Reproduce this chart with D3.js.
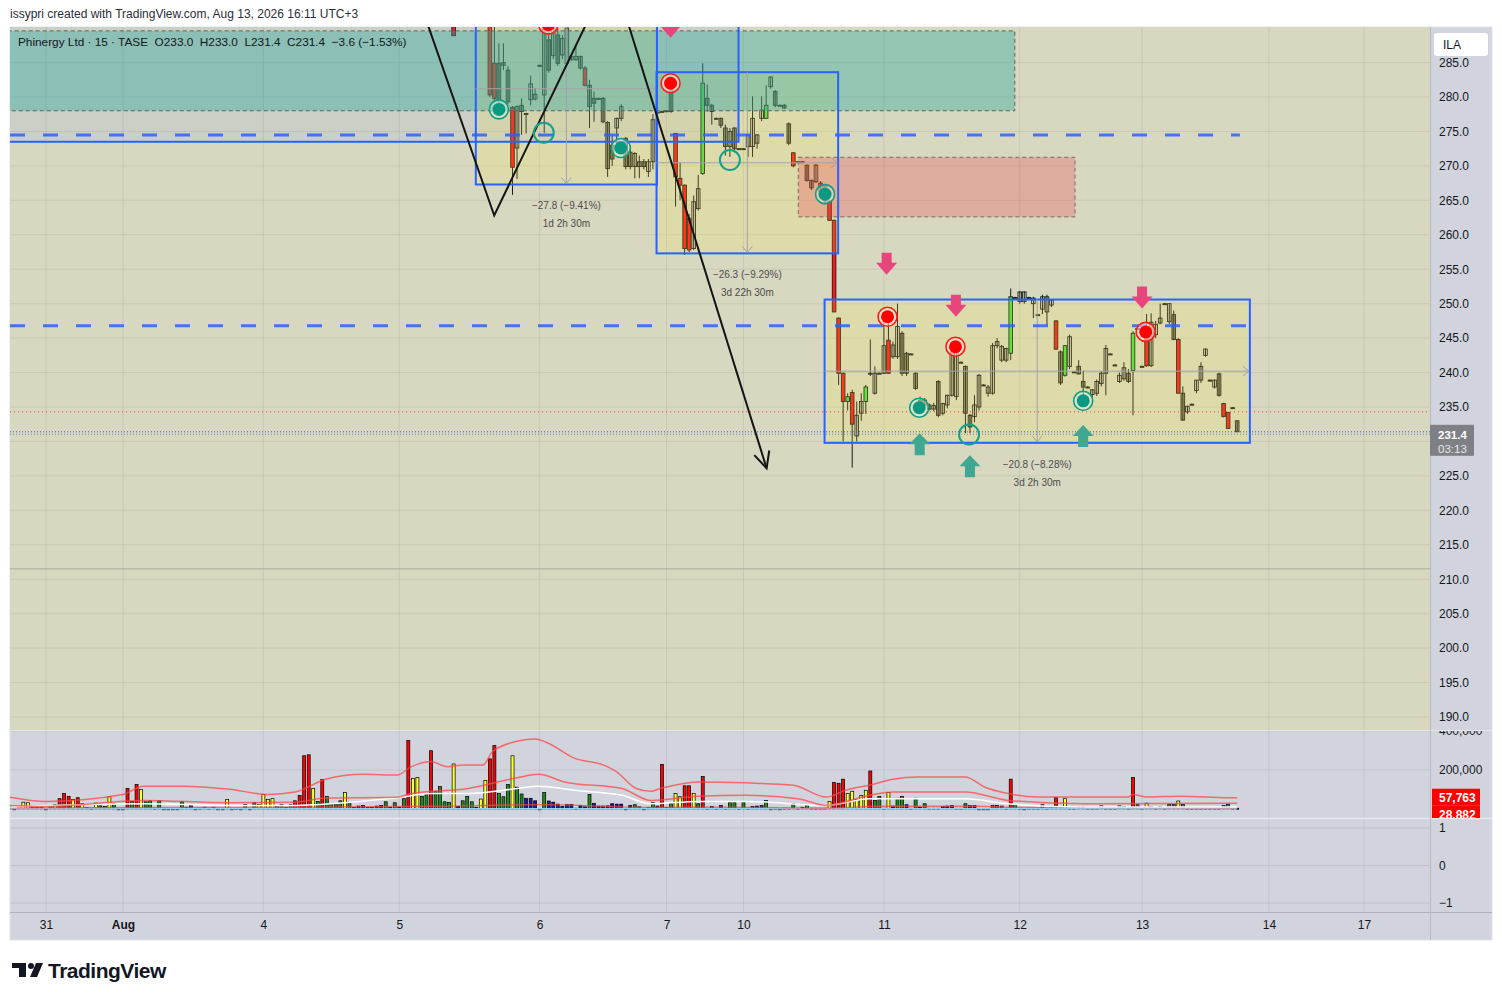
<!DOCTYPE html>
<html><head><meta charset="utf-8">
<script src="https://cdn.jsdelivr.net/npm/d3@7"></script>
<style>body{margin:0;background:#fff;} svg{display:block;font-family:"Liberation Sans",Arial,sans-serif;} .pre{white-space:pre;}</style>
</head><body><svg id="c" width="1502" height="1000"></svg>
<script>
// ---------------- DATA ----------------
const dayTickIndex = [0,17,48,78,109,137,154,185,215,242,270,291];
const dayTickLabel = ["31","Aug","4","5","6","7","10","11","12","13","14","17"];
const priceTicks = [285,280,275,270,265,260,255,250,245,240,235,230,225,220,215,210,205,200,195,190];
const volumeTicks = [400000,200000];
const oscTicks = [1,0,-1];

// candles: [open, high, low, close, tone]  tone: r red, g green, d filled, h hollow ; null = above view
const candleStart = 90;
const candleRows = [
 [290.4,291,288.9,288.9,'r'], null,null,null,null,null,null,null,
 [292,293,280,280.3,'r'],[284.9,290.5,279.3,279.8,'r'],
 [284.9,287.8,279.1,279.6,'d'],[285,287.8,283.9,284.6,'d'],[283.9,284.5,279,279.3,'d'],[278.5,278.7,265.8,269.8,'r'],[272.6,278.8,268.1,278.6,'h'],
 [278.8,279.8,274.5,277.9,'d'],[277.6,277.7,274.7,277.5,'d'],[279.6,283.1,278.8,281.9,'h'],[279.7,281.3,279.5,280.4,'h'],[284.6,284.7,284.4,284.5,'d'],
 [280.3,291,274.8,289.8,'h'],[288.3,289.5,283.5,283.9,'d'],[286,290.5,285.5,290,'h'],[289,290,284.5,284.9,'d'],[286.1,289,285.5,288.5,'h'],
 [284.9,290.3,284.5,290,'h'],[285.9,286,285.3,285.4,'d'],[285.4,287.5,285.3,285.9,'h'],[285.9,286,284,284.2,'d'],[284.2,284.5,281.5,281.7,'r'],
 [281.7,282.5,275.5,278.6,'d'],[279.8,280.8,276.4,279.1,'d'],[279.8,279.9,279.7,279.8,'d'],[279.8,280,276.2,276.4,'d'],[276.3,276.5,268.4,269.6,'d'],
 [273,274.5,270,271,'d'],[275.5,277,273,276.9,'h'],[276.9,279,276.5,278.6,'h'],[274,274.2,269.5,269.9,'d'],[272,273,269.5,269.9,'d'],
 [269.9,272,268.2,271.8,'h'],[270.6,271.5,268.2,269.9,'d'],[270.6,271,269.5,269.9,'d'],[269.2,271,268.4,270.6,'h'],[270.6,277.5,269.5,276.7,'h'],
 [277.8,277.9,277.7,277.8,'d'],[277.9,278,277.8,277.9,'d'],[278,278.1,277.9,278,'d'],[281.7,282.5,277.7,277.9,'d'],[274.7,274.8,264.1,268.4,'r'],
 [268.2,270.5,265,267.2,'r'],[267.2,267.3,257.1,258,'r'],[262.4,263,257.5,257.8,'r'],[258,265.7,257.8,264.8,'h'],[263.8,268.7,263.5,266.7,'h'],
 [268.9,284.9,268.7,282,'g'],[279.8,281.8,277.9,278.8,'d'],[278.8,279,276,277.9,'d'],[276.9,277,276.8,276.9,'d'],[276.9,277,275.5,275.9,'d'],
 [275.5,276,271.5,272.8,'d'],[272.8,275.5,271.3,275,'h'],[275.5,275.6,272,272.5,'d'],[272.5,272.6,272.4,272.5,'d'],[272.5,272.6,272.4,272.5,'d'],
 [272.8,274.5,271.3,274.5,'h'],[272.8,280.1,271.3,276.9,'h'],[273.3,274.6,272.5,274.5,'h'],[276.9,280.1,276.5,278.1,'h'],[276.9,281.7,276.8,278.8,'g'],
 [281.5,283,281.2,282.9,'h'],[280.8,281,278.5,278.8,'d'],[278.8,278.9,278.7,278.8,'d'],[278.8,279,278.3,278.4,'d'],[276.1,276.3,273,273.3,'d'],
 [271.9,272,269.8,270,'r'],[270.6,270.7,270.5,270.6,'d'],[270.6,270.7,270.5,270.6,'d'],[270.1,270.2,267.7,267.9,'d'],[267.9,268,266.5,266.8,'d'],
 [267.7,270.3,267.5,270.1,'h'],[267.5,267.8,266,266.3,'d'],[267,267.2,264.5,265,'d'],[264.8,265,262,262.1,'r'],[262.1,262.2,248.8,248.8,'r'],
 [247.9,248,238.2,239.9,'r'],[239.9,240,230,235.8,'r'],[235.8,237,234.5,236.5,'g'],[237.1,237.5,226.2,232.5,'r'],[230.8,235.8,230,233.8,'h'],
 [234.1,237,233,235.8,'h'],[235.8,238.2,234,237.9,'g'],[239.9,244.8,239.5,239.9,'d'],[237,240.9,236.8,239.9,'h'],[239.9,240,239.8,239.9,'d'],
 [239.9,247.5,239.8,243.9,'h'],[244.7,248.5,239.8,239.9,'r'],[242.3,244.5,242,244,'h'],[242.3,250,242,246.7,'h'],[245.7,246,239.5,239.9,'d'],
 [242.8,243,239.5,239.9,'d'],[242.7,242.8,242.6,242.7,'d'],[239.9,240,237.5,237.7,'d'],[236,236.5,234.5,235.2,'d'],[236,236.3,235,235.3,'d'],
 [235.3,235.5,234.5,234.7,'d'],[234.7,235.6,234.4,235.2,'h'],[238.7,238.9,233.5,233.8,'d'],[234.1,235.6,233.8,235.5,'h'],[235.3,236.8,234.8,236.7,'h'],
 [236.7,244.2,236.5,243,'h'],[236.5,244.5,236,243.8,'h'],[241.5,241.6,241.4,241.5,'d'],[240.9,241,231.2,234.1,'d'],[233.8,234,231.2,232.1,'d'],
 [233.6,236.7,232.8,235.3,'h'],[235,239.8,234.5,239.6,'h'],[238.2,238.3,238.1,238.2,'d'],[237,238.2,236.5,237.9,'h'],[237,244.3,236.8,243.9,'h'],
 [243.9,245,243.5,244.5,'h'],[241.8,244,241.5,243.8,'h'],[241.8,243.6,241.5,243.5,'h'],[242.8,252.2,241.8,251,'g'],[250.9,251,250.8,250.9,'d'],
 [250.3,251.8,250,251.7,'h'],[250.3,251.8,250,251.7,'h'],[250.9,251,250.8,250.9,'d'],[250,251,247.9,250.8,'h'],[248.4,248.5,248.3,248.4,'d'],
 [249.2,251.3,248.5,251,'h'],[248.8,251.3,246.9,251,'h'],[249.8,250.5,249.5,250.5,'h'],[247.5,247.6,243.3,243.4,'r'],[243,243.2,238.2,238.5,'d'],
 [239.6,244,239.4,243.9,'g'],[240.9,245.5,240.5,245.2,'h'],[240.1,240.2,240,240.1,'d'],[240.9,241.8,239.7,239.8,'d'],[238.7,240.3,236,237.9,'d'],
 [237.9,238,237.8,237.9,'d'],[236.8,237.6,236.3,237.5,'h'],[237,239,236.6,238.7,'h'],[238.4,240.2,238,239.9,'h'],[239.9,244,236.7,243.5,'h'],
 [242.7,242.8,242.6,242.7,'d'],[241.1,241.2,241,241.1,'d'],[238.7,240,238.5,239.6,'h'],[239.1,241.5,238.8,240.7,'h'],[239.9,240.5,238.5,238.7,'d'],
 [240.3,246,233.8,245.7,'g'],[246.4,246.5,246.3,246.4,'d'],[240.9,241,240.8,240.9,'d'],[246.2,248.5,240.8,241,'r'],[241,248.6,240.8,247.3,'h'],
 [245.5,247.5,245,247,'h'],[247.2,250,247,247.9,'h'],[250,250.1,249.9,250,'d'],[247.4,250,247,250,'h'],[248.4,249,244.7,244.8,'d'],
 [244.8,245,237,237,'r'],[237,238,233,233.1,'d'],[234.3,235.2,234,235.1,'h'],[235.4,235.5,235.3,235.4,'d'],[237.4,238.9,237,238.9,'h'],
 [238.9,241.5,238.5,240.9,'h'],[242.5,243.5,242.3,243.4,'h'],[238.9,239,238.8,238.9,'d'],[237.9,239,237.7,238.9,'h'],[239.8,240,236.5,236.7,'d'],
 [235.5,235.6,233.5,233.6,'r'],[234.2,234.3,231.8,231.9,'r'],[234.9,235,234.8,234.9,'d'],[233,233,231.4,231.4,'d']
];

// volume in thousands, colour code: r red, y yellow, g green, b blue, k black
const volumeStart = -8;
const volumes = [
 [13,'k'],[1,'k'],[13,'g'],[35,'y'],[32,'y'],[8,'k'],[8,'k'],[8,'k'],
 [1,'k'],[18,'g'],[22,'y'],[53,'r'],[79,'r'],[65,'r'],[49,'y'],[58,'r'],[27,'y'],[8,'k'],
 [4,'k'],[30,'y'],[16,'g'],[13,'g'],[63,'y'],[27,'g'],[1,'k'],[1,'k'],[105,'r'],[39,'g'],
 [126,'r'],[100,'y'],[37,'g'],[42,'g'],[4,'k'],[42,'g'],[1,'k'],[1,'k'],[1,'k'],[1,'k'],
 [37,'g'],[9,'b'],[18,'b'],[1,'k'],[4,'b'],[9,'b'],[4,'k'],[9,'b'],[1,'k'],[1,'k'],
 [49,'y'],[1,'k'],[3,'b'],[1,'k'],[23,'g'],[1,'k'],[32,'g'],[23,'y'],[74,'y'],[48,'y'],
 [53,'y'],[15,'g'],[23,'g'],[9,'k'],[22,'g'],[42,'r'],[70,'r'],[273,'r'],[278,'r'],[105,'y'],
 [39,'g'],[152,'r'],[65,'g'],[27,'g'],[22,'g'],[42,'g'],[84,'y'],[32,'g'],[8,'k'],[15,'b'],
 [18,'b'],[8,'k'],[9,'b'],[15,'b'],[18,'b'],[37,'g'],[9,'b'],[32,'g'],[9,'k'],[53,'g'],
 [351,'r'],[157,'y'],[162,'y'],[65,'g'],[74,'g'],[299,'r'],[89,'g'],[115,'g'],[37,'g'],[34,'g'],
 [231,'y'],[13,'b'],[42,'g'],[65,'g'],[37,'g'],[9,'k'],[51,'y'],[146,'y'],[257,'r'],[325,'r'],
 [79,'g'],[63,'g'],[126,'g'],[273,'y'],[112,'g'],[77,'g'],[55,'b'],[55,'b'],[42,'b'],[1,'k'],
 [84,'g'],[41,'b'],[35,'b'],[25,'b'],[13,'b'],[23,'b'],[23,'b'],[4,'k'],[18,'b'],[11,'b'],
 [74,'g'],[29,'b'],[15,'b'],[15,'b'],[16,'b'],[27,'b'],[25,'b'],[25,'b'],[1,'k'],[18,'b'],
 [22,'g'],[11,'b'],[1,'k'],[8,'k'],[32,'g'],[15,'b'],[229,'r'],[8,'k'],[27,'g'],[79,'y'],
 [63,'y'],[119,'r'],[119,'r'],[79,'y'],[27,'g'],[167,'r'],[4,'k'],[13,'b'],[4,'k'],[18,'b'],
 [4,'k'],[32,'g'],[32,'g'],[4,'k'],[32,'g'],[4,'k'],[13,'b'],[15,'b'],[18,'b'],[44,'g'],
 [1,'k'],[4,'k'],[1,'k'],[4,'k'],[4,'k'],[27,'g'],[4,'k'],[9,'b'],[18,'g'],[4,'k'],
 [4,'k'],[4,'k'],[4,'k'],[39,'y'],[136,'r'],[132,'r'],[153,'r'],[79,'y'],[91,'y'],[49,'y'],
 [70,'y'],[96,'y'],[195,'r'],[44,'g'],[65,'g'],[4,'k'],[84,'y'],[15,'b'],[55,'g'],[65,'g'],
 [22,'b'],[4,'k'],[55,'g'],[9,'k'],[27,'g'],[4,'b'],[4,'k'],[4,'k'],[13,'b'],[15,'b'],
 [18,'b'],[4,'k'],[4,'k'],[27,'g'],[18,'b'],[18,'b'],[1,'k'],[1,'k'],[1,'k'],[18,'g'],
 [18,'g'],[15,'g'],[4,'k'],[153,'r'],[23,'g'],[4,'k'],[1,'k'],[4,'k'],[4,'k'],[4,'k'],
 [22,'g'],[4,'k'],[9,'b'],[58,'r'],[13,'g'],[53,'y'],[4,'k'],[4,'k'],[11,'g'],[11,'g'],
 [4,'k'],[4,'k'],[4,'k'],[16,'g'],[4,'k'],[4,'k'],[4,'k'],[16,'g'],[13,'g'],[4,'k'],
 [162,'r'],[22,'g'],[4,'k'],[30,'y'],[13,'g'],[4,'k'],[13,'g'],[4,'k'],[23,'g'],[23,'g'],
 [41,'y'],[23,'g'],[4,'k'],[4,'k'],[4,'k'],[4,'k'],[4,'k'],[4,'k'],[4,'k'],[4,'k'],
 [18,'g'],[23,'g'],[4,'k'],[4,'k']
];
// volume indicator lines [bar index, thousands]
const volUpper = [[-8,61],[0,39],[17,74],[21.5,117],[30,117],[40.5,101],[49,75],[55,87],[61.7,153],[70,178],[77.5,174],[80.7,217],[85,243],[88.6,217],[92.3,226],[96.5,226],[98.6,295],[104,347],[108,359],[110.3,344],[116.6,261],[123,226],[126,191],[130.3,105],[133.5,91],[135.6,105],[144,139],[154.6,134],[165,122],[172.3,61],[176.5,96],[181.8,122],[187,152],[192.4,164],[203,164],[207.2,113],[212.4,79],[218.8,61],[238.9,61],[240,74],[243,61],[250.4,66],[261,58],[263,57.8]];
const volMid = [[-8,18],[0,13],[21.5,44],[40.5,32],[55,35],[61.7,56],[77.5,60],[80.7,79],[93.2,105],[104,160],[108.7,178],[114.5,139],[127.2,105],[133.5,44],[144,66],[154.6,70],[166,53],[172.3,18],[181.8,70],[187,87],[203,87],[212.4,44],[229.3,27],[263,28.9]];
const volAvg = [[-8,10],[21.5,27],[40.5,18],[53.2,18],[77.5,58],[85,79],[93.2,79],[104,105],[108.7,117],[116.6,96],[127.2,70],[133.5,27],[144,39],[154.6,39],[172.3,18],[181.8,53],[203,53],[212.4,27],[229.3,10],[263,10]];
const volLow = [[-8,6],[30,8],[60,10],[85,14],[110,22],[133,8],[150,10],[172,5],[185,14],[205,14],[215,8],[263,6]];
const volBase = [[-8,1.5],[263,1.5]];
const volLabels = ["57,763","28,882"];

// drawings in (bar index, price)
const tealZone = {i0:-10, i1:213.9, p0:289.6, p1:278.0};
const redZone = {i0:166.1, i1:227.2, p0:271.25, p1:262.6};
const blueBoxes = [{i0:-10,i1:134.9,p0:296,p1:273.5},{i0:134.9,i1:152.9,p0:296,p1:273.5}];
const rangeBoxes = [
 {i0:94.9, i1:134.9, p0:295.1, p1:267.3, t1:"\u221227.8 (\u22129.41%)", t2:"1d 2h 30m"},
 {i0:134.8,i1:174.9, p0:283.6, p1:257.3, t1:"\u221226.3 (\u22129.29%)", t2:"3d 22h 30m"},
 {i0:171.9,i1:265.8, p0:250.6, p1:229.8, t1:"\u221220.8 (\u22128.28%)", t2:"3d 2h 30m"}
];
const dashedLevels = [{p:274.5,i1:263.6},{p:246.8,i1:265.8}];
const zigzag = [[83.5,292],[98.96,262.8],[120.3,292]];
const arrowLine = [[127.9,292],[159.1,226.1]];
const redDots = [[110.9,290.5],[137.9,282.0],[185.8,248.1],[200.8,243.75],[242.8,245.9]];
const tealDots = [[100.0,278.2],[126.9,272.6],[172.0,265.9],[192.8,234.9],[229.0,235.9]];
const tealRings = [[109.9,274.8],[151.0,270.85],[203.8,231.0]];
const downArrows = [[137.9,288.6],[185.6,254.2],[200.9,248.1],[242.0,249.3]];
const upArrows = [[192.9,231.2],[204.0,228.0],[229.0,232.4]];
const lastPrice = 231.4, prevClose = 234.3, secondLevel = 231.05, midLine = 211.5;

// ---------------- LAYOUT ----------------
const L=10, R=1430, T=27, MB=730, VT=731, VB=818, OB=912, AB=940, FR=1492;
const svg = d3.select('#c');
const x = d3.scaleLinear().domain([0,291]).range([46,1364]);
const y = d3.scaleLinear().domain([190,280]).range([717,97]);
const yv = d3.scaleLinear().domain([0,200000]).range([809,770]);
const yo = d3.scaleLinear().domain([-1,1]).range([903,828]);

const defs = svg.append('defs');
defs.append('clipPath').attr('id','mainClip').append('rect').attr('x',L).attr('y',T).attr('width',R-L).attr('height',MB-T);
defs.append('clipPath').attr('id','volClip').append('rect').attr('x',L).attr('y',VT).attr('width',R-L).attr('height',VB-VT);
defs.append('clipPath').attr('id','volAxClip').append('rect').attr('x',R).attr('y',VT).attr('width',FR-R).attr('height',VB-VT);

svg.append('rect').attr('width',1502).attr('height',1000).attr('fill','#fff');
svg.append('text').attr('x',10).attr('y',18).attr('font-size',12).attr('fill','#2a2e39')
  .text('issypri created with TradingView.com, Aug 13, 2026 16:11 UTC+3');
svg.append('rect').attr('x',L).attr('y',T).attr('width',FR-L).attr('height',AB-T).attr('fill','#d1d4dc').attr('stroke','#e0e3eb');
svg.append('rect').attr('x',L).attr('y',T).attr('width',R-L).attr('height',MB-T).attr('fill','#d8d8c1');

// grid
const grid = svg.append('g');
grid.selectAll('.vg').data(dayTickIndex).join('line').attr('x1',d=>x(d)).attr('x2',d=>x(d)).attr('y1',T).attr('y2',OB)
  .attr('stroke','rgba(90,95,110,0.13)');
grid.selectAll('.hg').data(priceTicks).join('line').attr('x1',L).attr('x2',R).attr('y1',d=>y(d)).attr('y2',d=>y(d))
  .attr('stroke','rgba(90,90,70,0.10)');
grid.selectAll('.og').data(oscTicks).join('line').attr('x1',L).attr('x2',R).attr('y1',d=>yo(d)).attr('y2',d=>yo(d))
  .attr('stroke','rgba(90,95,110,0.15)');
grid.selectAll('.vvg').data(volumeTicks).join('line').attr('x1',L).attr('x2',R).attr('y1',d=>yv(d)).attr('y2',d=>yv(d))
  .attr('stroke','rgba(90,95,110,0.12)');

// separators
svg.append('line').attr('x1',L).attr('x2',FR).attr('y1',730.5).attr('y2',730.5).attr('stroke','#e4e6ea');
svg.append('line').attr('x1',L).attr('x2',FR).attr('y1',818.5).attr('y2',818.5).attr('stroke','#e6e8ee').attr('stroke-width',1.5);
svg.append('line').attr('x1',L).attr('x2',FR).attr('y1',912.5).attr('y2',912.5).attr('stroke','#aeb1ba');
svg.append('line').attr('x1',R+0.5).attr('x2',R+0.5).attr('y1',T).attr('y2',AB).attr('stroke','#b6b9c2');

// -------- main pane content --------
const main = svg.append('g').attr('clip-path','url(#mainClip)');
main.append('line').attr('x1',L).attr('x2',R).attr('y1',y(midLine)).attr('y2',y(midLine)).attr('stroke','#a9a99a');

const candleData = candleRows.map((r,k)=> r ? {i:candleStart+k,o:r[0],h:r[1],l:r[2],c:r[3],t:r[4]} : null).filter(Boolean);
const toneFill = {r:'#ff1515', g:'#3fe03f', d:'rgba(45,45,15,0.42)', h:'none'};
const cg = main.append('g');
cg.selectAll('line').data(candleData).join('line')
  .attr('x1',d=>x(d.i)).attr('x2',d=>x(d.i)).attr('y1',d=>y(d.h)).attr('y2',d=>y(d.l)).attr('stroke','#1b1b1b').attr('stroke-width',1);
cg.selectAll('rect').data(candleData).join('rect')
  .attr('x',d=>x(d.i)-1.8).attr('width',3.6)
  .attr('y',d=>y(Math.max(d.o,d.c))).attr('height',d=>Math.max(1,Math.abs(y(d.o)-y(d.c))))
  .attr('fill',d=>toneFill[d.t]==='none' ? '#d8d8c1' : toneFill[d.t]).attr('fill-opacity',d=>d.t==='h'?0:1)
  .attr('stroke','#1b1b1b').attr('stroke-width',0.9);

// zones / boxes
const rectOf = (g,b)=> g.append('rect').attr('x',x(b.i0)).attr('y',y(b.p0)).attr('width',x(b.i1)-x(b.i0)).attr('height',y(b.p1)-y(b.p0));
blueBoxes.forEach(b=> rectOf(main,b).attr('fill','rgba(41,98,255,0.07)'));
rangeBoxes.forEach(b=> rectOf(main,b).attr('fill','rgba(255,235,59,0.16)'));
rectOf(main,tealZone).attr('fill','rgba(38,166,154,0.38)').attr('stroke','#5a6660').attr('stroke-dasharray','4 3');
rectOf(main,redZone).attr('fill','rgba(242,54,69,0.27)').attr('stroke','#7a6a60').attr('stroke-dasharray','4 3');
blueBoxes.forEach(b=> rectOf(main,b).attr('fill','none').attr('stroke','#2962ff').attr('stroke-width',2));
rangeBoxes.forEach(b=>{
  rectOf(main,b).attr('fill','none').attr('stroke','#2962ff').attr('stroke-width',2);
  const mx = (x(b.i0)+x(b.i1))/2, my = y((b.p0+b.p1)/2), by = y(b.p1), rx = x(b.i1);
  main.append('line').attr('x1',mx).attr('x2',mx).attr('y1',y(b.p0)).attr('y2',by-1).attr('stroke','#a2a2aa');
  main.append('path').attr('d',`M${mx-5},${by-7}L${mx},${by-1}L${mx+5},${by-7}`).attr('fill','none').attr('stroke','#a2a2aa');
  main.append('line').attr('x1',x(b.i0)).attr('x2',rx-1).attr('y1',my).attr('y2',my).attr('stroke','#a2a2aa');
  main.append('path').attr('d',`M${rx-7},${my-5}L${rx-1},${my}L${rx-7},${my+5}`).attr('fill','none').attr('stroke','#a2a2aa');
  main.append('text').attr('x',mx).attr('y',by+25).attr('text-anchor','middle').attr('font-size',10).attr('fill','#4c4c4c').text(b.t1);
  main.append('text').attr('x',mx).attr('y',by+43).attr('text-anchor','middle').attr('font-size',10).attr('fill','#4c4c4c').text(b.t2);
});

// levels
dashedLevels.forEach(d=> main.append('line').attr('x1',L).attr('x2',x(d.i1)).attr('y1',y(d.p)).attr('y2',y(d.p))
  .attr('stroke','#2962ff').attr('stroke-opacity',0.85).attr('stroke-width',3).attr('stroke-dasharray','15 18'));
main.append('line').attr('x1',L).attr('x2',R).attr('y1',y(prevClose)).attr('y2',y(prevClose)).attr('stroke','#f23645').attr('stroke-dasharray','1 3');
main.append('line').attr('x1',L).attr('x2',R).attr('y1',y(lastPrice)).attr('y2',y(lastPrice)).attr('stroke','#2962ff').attr('stroke-dasharray','1 2');
main.append('line').attr('x1',L).attr('x2',R).attr('y1',y(secondLevel)).attr('y2',y(secondLevel)).attr('stroke','#6a7fc0').attr('stroke-dasharray','1 2');

// zigzag + arrow
const ln = d3.line().x(d=>x(d[0])).y(d=>y(d[1]));
main.append('path').attr('d',ln(zigzag)).attr('fill','none').attr('stroke','#141414').attr('stroke-width',2);
main.append('path').attr('d',ln(arrowLine)).attr('fill','none').attr('stroke','#141414').attr('stroke-width',2);
(function(){
  const [a,b] = arrowLine; const x1=x(a[0]),y1=y(a[1]),x2=x(b[0]),y2=y(b[1]);
  const ang = Math.atan2(y2-y1,x2-x1), L2=18;
  const p1=[x2-L2*Math.cos(ang-0.45), y2-L2*Math.sin(ang-0.45)], p2=[x2-L2*Math.cos(ang+0.45), y2-L2*Math.sin(ang+0.45)];
  main.append('path').attr('d',`M${p1}L${x2},${y2}L${p2}`).attr('fill','none').attr('stroke','#141414').attr('stroke-width',2);
})();

// markers
redDots.forEach(([i,p])=>{
  main.append('circle').attr('cx',x(i)).attr('cy',y(p)).attr('r',9.5).attr('fill','rgba(255,225,225,0.55)').attr('stroke','#ff1a1a').attr('stroke-width',1.6);
  main.append('circle').attr('cx',x(i)).attr('cy',y(p)).attr('r',6.5).attr('fill','#ff0000');
});
tealDots.forEach(([i,p])=>{
  main.append('circle').attr('cx',x(i)).attr('cy',y(p)).attr('r',9.5).attr('fill','rgba(220,245,235,0.45)').attr('stroke','#0f9c84').attr('stroke-width',1.6);
  main.append('circle').attr('cx',x(i)).attr('cy',y(p)).attr('r',6.5).attr('fill','#0a9981');
});
tealRings.forEach(([i,p])=> main.append('circle').attr('cx',x(i)).attr('cy',y(p)).attr('r',10).attr('fill','none').attr('stroke','#14a08a').attr('stroke-width',2));
downArrows.forEach(([i,p])=>{ const cx=x(i), ty=y(p);
  main.append('path').attr('d',`M${cx-5},${ty-22}h10v10h5.5L${cx},${ty}L${cx-10.5},${ty-12}h5.5z`).attr('fill','#e8457c'); });
upArrows.forEach(([i,p])=>{ const cx=x(i), ty=y(p);
  main.append('path').attr('d',`M${cx},${ty}L${cx+10.5},${ty+11}h-5.5v11h-10v-11h-5.5z`).attr('fill','#3fa792'); });

// header legend
svg.append('text').attr('class','pre').attr('x',18).attr('y',46).attr('font-size',11.8).attr('fill','#131722')
  .text('Phinergy Ltd \u00b7 15 \u00b7 TASE  O233.0  H233.0  L231.4  C231.4  \u22123.6 (\u22121.53%)');

// -------- volume pane --------
const vol = svg.append('g').attr('clip-path','url(#volClip)');
const volColor = {r:'#ff0000', y:'#ffff33', g:'#1d8a1d', b:'#1a1aa8', k:'#111'};
const volData = volumes.map((v,k)=>({i:volumeStart+k, v:v[0]*1000, c:v[1]}));
vol.selectAll('rect').data(volData).join('rect')
  .attr('x',d=>x(d.i)-1.5).attr('width',3).attr('y',d=>yv(d.v)).attr('height',d=>Math.max(1,yv(0)-yv(d.v)))
  .attr('fill',d=>volColor[d.c]).attr('stroke','#000').attr('stroke-width',0.7);
const vl = d3.line().x(d=>x(d[0])).y(d=>yv(d[1]*1000)).curve(d3.curveMonotoneX);
vol.append('path').attr('d',vl(volBase)).attr('fill','none').attr('stroke','#8fd3f0').attr('stroke-width',1.5);
vol.append('path').attr('d',vl(volLow)).attr('fill','none').attr('stroke','rgba(255,70,70,0.75)').attr('stroke-width',1.3);
vol.append('path').attr('d',vl(volAvg)).attr('fill','none').attr('stroke','#ffffff').attr('stroke-width',1.5);
vol.append('path').attr('d',vl(volMid)).attr('fill','none').attr('stroke','rgba(255,70,70,0.75)').attr('stroke-width',1.5);
vol.append('path').attr('d',vl(volUpper)).attr('fill','none').attr('stroke','rgba(255,70,70,0.75)').attr('stroke-width',1.5);

// -------- axes --------
const ly = y(lastPrice);
// tick labels hidden behind the last-price tag are not shown (as in the original)
const shownPriceTicks = priceTicks.filter(p => Math.abs(y(p) - (ly+8)) > 20);
const pAx = svg.append('g').attr('transform',`translate(${R},0)`)
  .call(d3.axisRight(y).tickValues(shownPriceTicks).tickFormat(d3.format('.1f')).tickSize(0).tickPadding(9));
pAx.select('.domain').remove();
pAx.selectAll('text').attr('font-size',12).attr('fill','#131722').attr('font-family','Liberation Sans, Arial');

const vAxG = svg.append('g').attr('clip-path','url(#volAxClip)');
const vAx = vAxG.append('g').attr('transform',`translate(${R},0)`)
  .call(d3.axisRight(yv).tickValues(volumeTicks).tickFormat(d3.format(',')).tickSize(0).tickPadding(9));
vAx.select('.domain').remove();
vAx.selectAll('text').attr('font-size',12).attr('fill','#131722').attr('font-family','Liberation Sans, Arial');
const lab1 = yv(57763);
vAxG.append('rect').attr('x',R+2).attr('y',lab1-9).attr('width',48).attr('height',17).attr('fill','#ff0000');
vAxG.append('text').attr('x',R+9).attr('y',lab1+4).attr('font-size',12).attr('font-weight','bold').attr('fill','#fff').text(volLabels[0]);
vAxG.append('rect').attr('x',R+2).attr('y',lab1+8).attr('width',48).attr('height',17).attr('fill','#ff0000');
vAxG.append('text').attr('x',R+9).attr('y',lab1+21).attr('font-size',12).attr('font-weight','bold').attr('fill','#fff').text(volLabels[1]);

const oAx = svg.append('g').attr('transform',`translate(${R},0)`)
  .call(d3.axisRight(yo).tickValues(oscTicks).tickFormat(d=> d<0 ? '\u2212'+Math.abs(d) : String(d)).tickSize(0).tickPadding(9));
oAx.select('.domain').remove();
oAx.selectAll('text').attr('font-size',12).attr('fill','#131722').attr('font-family','Liberation Sans, Arial');

const tAx = svg.append('g').attr('transform',`translate(0,${OB})`)
  .call(d3.axisBottom(x).tickValues(dayTickIndex).tickFormat((d,k)=>dayTickLabel[k]).tickSize(0).tickPadding(8));
tAx.select('.domain').remove();
tAx.selectAll('text').attr('font-size',12).attr('fill','#131722').attr('font-family','Liberation Sans, Arial')
  .attr('font-weight',(d,k)=> dayTickLabel[k]==='Aug' ? 'bold' : 'normal');

// current price label
svg.append('rect').attr('x',R).attr('y',ly-7).attr('width',44).attr('height',31).attr('fill','#7e8086');
svg.append('text').attr('x',R+8).attr('y',ly+7).attr('font-size',11.5).attr('font-weight','bold').attr('fill','#fff').text(d3.format('.1f')(lastPrice));
svg.append('text').attr('x',R+8).attr('y',ly+21).attr('font-size',11.5).attr('fill','#e8e8e8').text('03:13');

// currency box
svg.append('rect').attr('x',R+4).attr('y',33).attr('width',54).attr('height',23).attr('rx',3).attr('fill','#fff');
svg.append('text').attr('x',R+13).attr('y',49).attr('font-size',12).attr('fill','#131722').text('ILA');

// logo
const logo = svg.append('g').attr('fill','#131722');
logo.append('rect').attr('x',12).attr('y',963).attr('width',14).attr('height',5);
logo.append('rect').attr('x',19).attr('y',963).attr('width',7).attr('height',14);
logo.append('circle').attr('cx',31).attr('cy',966).attr('r',3);
logo.append('path').attr('d','M36,963H43L37,977H30Z');
logo.append('text').attr('x',48).attr('y',978).attr('font-size',21).attr('font-weight','bold').attr('letter-spacing','-0.5').text('TradingView');
</script></body></html>
